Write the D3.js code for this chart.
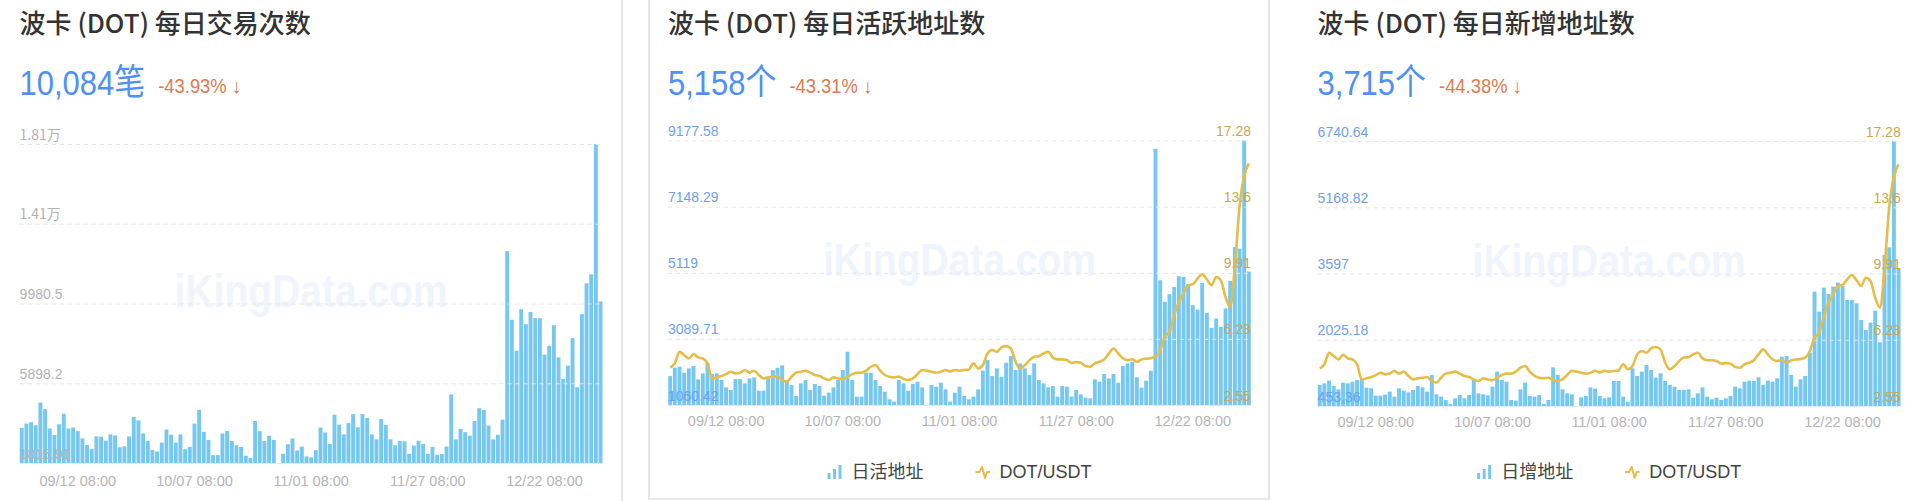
<!DOCTYPE html>
<html><head><meta charset="utf-8">
<script src="https://cdn.jsdelivr.net/npm/d3@7/dist/d3.min.js"></script>
<style>
html,body{margin:0;padding:0;background:#fff;}
svg{display:block;}
</style>
</head><body>
<svg id="chart" width="1920" height="501"></svg>
<script>
// ---------- data ----------
const dayCount = 125;
const categories = d3.range(dayCount);
const tickIndex = [12, 37, 62, 87, 112];
const tickLabels = ["09/12 08:00", "10/07 08:00", "11/01 08:00", "11/27 08:00", "12/22 08:00"];

const txCounts = [3614,3832,3899,3748,4907,4571,3580,3244,3798,4336,3580,3630,3446,3076,2740,2522,3177,3160,2958,3278,
  3227,2622,2673,3177,4168,4000,3328,2942,2488,2404,2858,3530,3261,2858,3278,2522,2639,3832,4538,3412,
  2992,2219,2219,3328,3462,2942,2723,2639,2186,2068,3966,3446,2942,3210,2992,1815.91,2286,2774,3076,2454,
  2656,2152,2102,2471,3630,3378,2790,4286,3782,3278,3866,4319,3647,4319,4118,3278,3026,4067,3765,3026,
  2723,2942,2925,2286,2706,2958,2790,2286,2639,2236,2270,2656,5327,3026,3563,3395,3210,3966,4622,4538,
  3731,3026,3261,4034,12662,9143,7562,9687,8922,9551,9228,9228,7358,7817,8871,7222,6117,6797,8208,5692,
  9432,11013,11472,18145.1,10084];

const activeAddr = [1948,2204,2235,2051,2184,2255,1846,2030,2357,2010,2030,1826,1601,1520,1857,1857,1724,1877,1908,1499,
  1499,1877,2132,2204,2275,1826,1673,1336,1724,1826,1520,1703,1642,1346,1438,1601,1826,2132,2694,1826,
  1316,1316,2051,2051,1826,1642,1469,1234,1162,1826,1724,1499,1703,1775,1601,1060.42,1673,1622,1744,1540,
  1162,1438,1622,1336,1234,1316,1540,2112,2438,1948,2184,1928,2357,2561,2132,2336,2184,1979,2336,1826,
  1724,1601,1642,1316,1642,1622,1316,1520,1387,1285,1265,1846,1775,2010,1877,2010,1744,2255,2336,2388,
  1908,1591,1806,2112,8922,4889,4226,4460,4685,5012,4991,4767,4123,3991,4807,3889,3429,3715,3460,4021,
  4869,5910,5859,9177.58,5158];

const newAddr = [952,991,1055,928,849,1007,991,1031,1070,1094,888,873,699,699,722,793,675,873,817,778,
  833,928,896,793,1189,730,675,596,501,635,714,635,714,1070,754,730,706,912,1268,1070,
  1031,596,580,849,1007,691,675,714,501,596,1371,1189,849,754,730,453.36,659,691,896,864,
  691,635,659,1046,1046,675,556,1347,1165,1268,1426,1308,1125,1229,1046,952,912,833,833,849,
  651,754,896,675,611,651,596,635,691,912,873,1031,1055,1046,1133,952,1055,1031,1110,1624,
  1640,1189,912,1086,1165,1719,3166,2692,3261,3111,3285,3380,3301,2969,2969,2890,2494,2257,2431,2716,
  1964,4037,4218,6740.64,3715];

const dotPrice = [4.64,4.87,5.51,5.33,5.14,5.39,5.20,5.14,4.87,4.03,4.09,4.16,4.27,4.40,4.31,4.35,4.50,4.35,4.46,4.22,
  4.03,4.09,4.12,4.16,3.94,3.85,4.12,4.35,4.40,4.46,4.35,4.22,4.16,4.03,3.94,4.09,4.03,3.98,4.12,4.27,
  4.35,4.35,4.46,4.68,4.77,4.46,4.22,4.12,4.09,4.12,4.00,3.94,4.03,4.27,4.50,4.46,4.40,4.35,4.40,4.50,
  4.42,4.50,4.46,4.50,4.53,4.87,4.59,4.77,5.42,5.61,5.51,5.76,5.83,5.70,4.96,4.59,4.77,5.05,5.24,5.27,
  5.42,5.51,5.20,5.09,5.09,5.05,4.90,4.94,4.90,4.72,4.68,4.87,4.96,5.09,5.42,5.70,5.42,5.15,5.05,5.10,
  4.95,5.09,5.13,5.16,5.24,5.61,6.35,6.63,7.55,8.29,8.76,9.22,9.28,9.59,9.83,9.54,9.22,9.68,9.50,8.57,
  8.02,10.2,13.6,15.3,16.0];

const txTicks = ["1815.91", "5898.2", "9980.5", "1.41万", "1.81万"];
const txDomain = [1815.91, 18145.1];
const activeTicks = ["1060.42", "3089.71", "5119", "7148.29", "9177.58"];
const activeDomain = [1060.42, 9177.58];
const newTicks = ["453.36", "2025.18", "3597", "5168.82", "6740.64"];
const newDomain = [453.36, 6740.64];
const priceTicks = ["2.55", "6.23", "9.91", "13.6", "17.28"];
const priceDomain = [2.55, 17.28];

const titles = ["波卡 (DOT) 每日交易次数", "波卡 (DOT) 每日活跃地址数", "波卡 (DOT) 每日新增地址数"];
const headlines = ["10,084笔", "5,158个", "3,715个"];
const changes = ["-43.93% ↓", "-43.31% ↓", "-44.38% ↓"];
const legendNames = [null, ["日活地址", "DOT/USDT"], ["日增地址", "DOT/USDT"]];

// ---------- layout / style ----------
const BAR = "#76c8f1", LINE = "#e6bd48", BLUE = "#4f8ff7", ORANGE = "#e07a52";
const svg = d3.select("#chart");
const FONT = "'Noto Sans CJK SC','Noto Sans',sans-serif";
const NUMFONT = "'Liberation Sans','Noto Sans CJK SC',sans-serif";

const panels = [
  {left: 19.6, right: 602.7, top: 144, bottom: 463, values: txCounts, domain: txDomain, ticks: txTicks,
   leftColor: "#b3b3b3", line: false, xLabelY: 486},
  {left: 668, right: 1251, top: 140.5, bottom: 405, values: activeAddr, domain: activeDomain, ticks: activeTicks,
   leftColor: "#6f9ff2", line: true, xLabelY: 426},
  {left: 1317.6, right: 1900.7, top: 141, bottom: 406, values: newAddr, domain: newDomain, ticks: newTicks,
   leftColor: "#6f9ff2", line: true, xLabelY: 427}
];

// panel frames
svg.append("line").attr("x1", 622).attr("x2", 622).attr("y1", 0).attr("y2", 501)
  .attr("stroke", "#d6d6d6").attr("stroke-width", 1.2);
svg.append("path").attr("d", "M649,0 V499 H1269 V0").attr("fill", "none")
  .attr("stroke", "#d6d6d6").attr("stroke-width", 1.2);

panels.forEach((p, k) => {
  const g = svg.append("g");
  const w = p.right - p.left;

  // title + headline
  g.append("text").attr("x", p.left).attr("y", 33).attr("font-family", FONT)
    .attr("font-size", 26).attr("font-weight", 500).attr("fill", "#333").text(titles[k]);
  const NSX = 0.86;
  const num = g.append("text").attr("transform", `translate(${p.left},95) scale(${NSX},1)`)
    .attr("font-family", NUMFONT).attr("font-size", 36).attr("fill", BLUE).text(headlines[k]);
  const nw = num.node().getComputedTextLength() * NSX;
  g.append("text").attr("transform", `translate(${p.left + nw + 13},93) scale(0.92,1)`)
    .attr("font-family", NUMFONT).attr("font-size", 20).attr("fill", ORANGE).text(changes[k]);

  // watermark
  g.append("text").attr("transform", `translate(${(p.left + p.right) / 2},${(p.top + p.bottom) / 2 + 3}) scale(0.83,1)`)
    .attr("text-anchor", "middle").attr("font-family", "'Liberation Sans',sans-serif")
    .attr("font-weight", 700).attr("font-size", 47).attr("fill", "#f0f5fc").text("iKingData.com");

  const x = d3.scaleBand().domain(categories).range([p.left, p.right]).paddingInner(0.16).paddingOuter(0.04);
  const y = d3.scaleLinear().domain(p.domain).range([p.bottom, p.top]);
  const tickVals = d3.range(5).map(i => p.domain[0] + i * (p.domain[1] - p.domain[0]) / 4);

  // grid + left labels
  const ga = g.append("g").attr("transform", `translate(${p.left},0)`)
    .call(d3.axisRight(y).tickValues(tickVals).tickSize(w).tickFormat((d, i) => p.ticks[i]));
  ga.select(".domain").remove();
  ga.selectAll(".tick line").attr("stroke", "#e6e6e6").attr("stroke-dasharray", "4,4")
    .attr("stroke-width", 1);
  ga.selectAll(".tick:first-of-type line").attr("stroke", "#dfeaf3").attr("stroke-dasharray", null);
  const leftLabels = ga.selectAll(".tick text").attr("x", 0).attr("dy", -5).attr("text-anchor", "start")
    .attr("font-family", "'Liberation Sans',sans-serif").attr("font-size", 14).attr("fill", p.leftColor);
  leftLabels.filter((d, i) => p.ticks[i].includes("万")).attr("font-family", FONT).attr("font-size", 14);

  // bars
  g.append("g").selectAll("rect").data(p.values).join("rect")
    .attr("x", (d, i) => x(categories[i])).attr("width", x.bandwidth())
    .attr("y", d => y(d)).attr("height", d => p.bottom - y(d)).attr("fill", BAR);

  ga.raise();
  ga.selectAll(".tick line").lower();

  // x axis
  const gx = g.append("g").attr("transform", `translate(0,${p.bottom})`)
    .call(d3.axisBottom(x).tickValues(tickIndex).tickSize(0).tickFormat(i => tickLabels[tickIndex.indexOf(i)]));
  gx.select(".domain").remove();
  gx.selectAll("text").attr("dy", 0).attr("y", p.xLabelY - p.bottom)
    .attr("font-family", "'Liberation Sans',sans-serif").attr("font-size", 14.5).attr("fill", "#b5b5b5");

  if (p.line) {
    const yr = d3.scaleLinear().domain(priceDomain).range([p.bottom, p.top]);
    const gr = g.append("g").attr("transform", `translate(${p.right},0)`)
      .call(d3.axisLeft(yr).tickValues(d3.range(5).map(i => priceDomain[0] + i * (priceDomain[1] - priceDomain[0]) / 4))
        .tickSize(0).tickFormat((d, i) => priceTicks[i]));
    gr.select(".domain").remove();
    gr.selectAll("text").attr("x", 0).attr("dy", -5).attr("text-anchor", "end")
      .attr("font-family", "'Liberation Sans',sans-serif").attr("font-size", 14).attr("fill", "#c9a94c");

    const line = d3.line().x((d, i) => x(categories[i]) + x.bandwidth() / 2).y(d => yr(d))
      .curve(d3.curveMonotoneX);
    g.append("path").datum(dotPrice).attr("d", line).attr("fill", "none")
      .attr("stroke", LINE).attr("stroke-width", 2.6).attr("stroke-linejoin", "round");
    gr.raise();

    // legend
    const names = legendNames[k];
    const lg = g.append("g");
    const t1 = lg.append("text").attr("font-family", FONT).attr("font-size", 18).attr("fill", "#444").text(names[0]);
    const t2 = lg.append("text").attr("font-family", "'Liberation Sans',sans-serif").attr("font-size", 18).attr("fill", "#444").text(names[1]);
    const w1 = t1.node().getComputedTextLength(), w2 = t2.node().getComputedTextLength();
    const iconW = 14, gapIT = 10, gapItems = 52;
    const total = iconW + gapIT + w1 + gapItems + iconW + gapIT + w2;
    let cx = (p.left + p.right) / 2 - total / 2;
    const ly = 478;
    [[0, 6], [5.5, 10], [11, 14]].forEach(([dx, h]) => {
      lg.append("rect").attr("x", cx + dx).attr("y", ly + 1 - h).attr("width", 3).attr("height", h).attr("fill", BAR);
    });
    t1.attr("x", cx + iconW + gapIT).attr("y", ly);
    cx += iconW + gapIT + w1 + gapItems;
    lg.append("path").attr("d", `M${cx},${ly - 6} h4 l2.5,-5 l3,11 l2,-6 h3`)
      .attr("fill", "none").attr("stroke", LINE).attr("stroke-width", 2).attr("stroke-linejoin", "round");
    t2.attr("x", cx + iconW + gapIT).attr("y", ly);
  }
});
</script>
</body></html>
